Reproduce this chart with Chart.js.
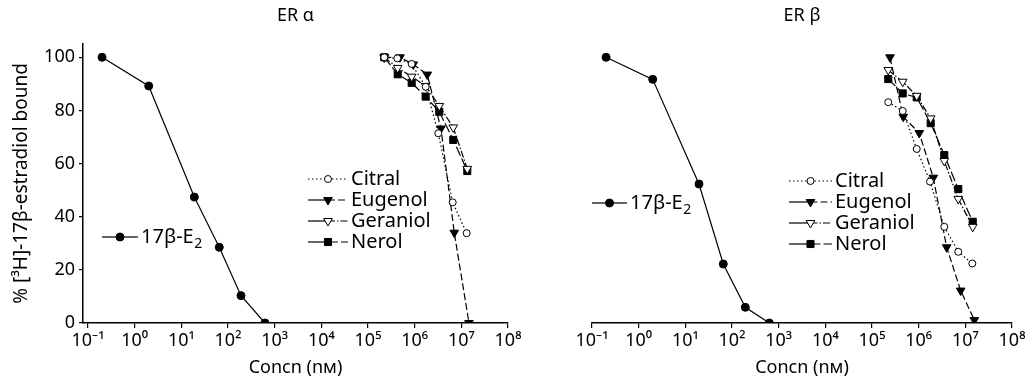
<!DOCTYPE html>
<html><head><meta charset="utf-8">
<script src="https://cdn.jsdelivr.net/npm/chart.js@4.4.1/dist/chart.umd.min.js"></script>
<style>
html,body{margin:0;padding:0;background:#fff;overflow:hidden;width:1030px;height:385px;}
.panel{position:absolute;top:0;height:385px;width:526px;}
#wa{left:0;}
#wb{left:504px;}
</style></head><body>
<div class="panel" id="wa"><canvas id="ca" width="526" height="385"></canvas></div>
<div class="panel" id="wb"><canvas id="cb" width="526" height="385"></canvas></div>
<script>
// ---------- data ----------
const panelTitles = ['ER \u03b1', 'ER \u03b2'];
const xTickValues = [1e-1, 1e0, 1e1, 1e2, 1e3, 1e4, 1e5, 1e6, 1e7, 1e8];
const xTickLabels = ['10\u207b\u00b9','10\u2070','10\u00b9','10\u00b2','10\u00b3','10\u2074','10\u2075','10\u2076','10\u2077','10\u2078'];
const yTickValues = [0, 20, 40, 60, 80, 100];
const seriesNames = ['17\u03b2-E2', 'Citral', 'Eugenol', 'Geraniol', 'Nerol'];
const xAxisTitle = 'Concn (n\u043c)';
const yAxisTitle = '% [\u00b3H]-17\u03b2-estradiol bound';

// ER alpha
const e2ConcA      = [0.2, 2.0, 19, 65, 190, 620];
const e2BoundA     = [100, 89.2, 47.4, 28.5, 10.3, 0];
const citralConcA  = [2.23e5, 4.25e5, 8.63e5, 1.72e6, 3.21e6, 6.53e6, 1.30e7];
const citralBoundA = [100, 99.6, 97.5, 88.9, 71.4, 45.4, 33.8];
const eugenolConcA  = [2.23e5, 4.84e5, 9.33e5, 1.86e6, 3.66e6, 7.06e6, 1.46e7];
const eugenolBoundA = [100, 100, 97.3, 93.5, 73.2, 34, 0];
const geraniolConcA  = [2.23e5, 4.33e5, 8.63e5, 1.72e6, 3.37e6, 6.71e6, 1.34e7];
const geraniolBoundA = [100, 96, 92.7, 89.2, 81.7, 73.6, 58];
const nerolConcA  = [2.23e5, 4.33e5, 8.63e5, 1.72e6, 3.37e6, 6.71e6, 1.34e7];
const nerolBoundA = [100, 93.6, 90.4, 85.2, 79.5, 68.9, 57.2];

// ER beta
const e2ConcB      = [0.2, 2.0, 19.6, 65, 193, 631];
const e2BoundB     = [100, 91.7, 52.3, 22.2, 5.9, 0];
const citralConcB  = [2.23e5, 4.55e5, 9.08e5, 1.75e6, 3.54e6, 7.06e6, 1.41e7];
const citralBoundB = [83.1, 79.8, 65.5, 53.2, 36.2, 26.8, 22.4];
const eugenolConcB  = [2.43e5, 4.68e5, 1.03e6, 2.06e6, 3.98e6, 7.94e6, 1.56e7];
const eugenolBoundB = [100, 77.6, 71.5, 54.7, 28.5, 12.2, 1.1];
const geraniolConcB  = [2.23e5, 4.55e5, 9.08e5, 1.81e6, 3.54e6, 7.06e6, 1.44e7];
const geraniolBoundB = [95.2, 90.8, 85.5, 77, 61, 46.7, 36.2];
const nerolConcB  = [2.23e5, 4.55e5, 9.08e5, 1.81e6, 3.54e6, 7.06e6, 1.44e7];
const nerolBoundB = [91.8, 86.4, 84.9, 75.2, 63.2, 50.4, 38.1];

// ---------- styles ----------
const INK = '#000';
const FONT = '"Noto Sans", "Open Sans", "DejaVu Sans", sans-serif';
const styles = [
  {pointStyle:'circle',   radius:4,   fill:INK,    rot:0,   dash:[]},
  {pointStyle:'circle',   radius:3.5, fill:'#fff', rot:0,   dash:[1.5,2.5]},
  {pointStyle:'triangle', radius:5,   fill:INK,    rot:180, dash:[7,3]},
  {pointStyle:'triangle', radius:5,   fill:'#fff', rot:180, dash:[7,2,1.5,2]},
  {pointStyle:'rect',     radius:5,   fill:INK,    rot:0,   dash:[10,3]}
];

function pts(xs, ys){ return xs.map((x,i)=>({x:x, y:ys[i]})); }
function ds(i, xs, ys){
  const s = styles[i];
  return {
    label: seriesNames[i], data: pts(xs, ys),
    borderColor: INK, borderWidth: 1.2, borderDash: s.dash,
    pointStyle: s.pointStyle, pointRadius: s.radius, pointRotation: s.rot,
    pointBackgroundColor: s.fill, pointBorderColor: INK, pointBorderWidth: 1,
    tension: 0, fill: false
  };
}

function drawMarker(ctx, s, x, y){
  ctx.save();
  ctx.setLineDash([]);
  ctx.fillStyle = s.fill; ctx.strokeStyle = INK; ctx.lineWidth = 1;
  ctx.beginPath();
  const r = s.radius;
  if (s.pointStyle === 'circle') {
    ctx.arc(x, y, r, 0, Math.PI*2);
  } else if (s.pointStyle === 'rect') {
    const h = r*Math.SQRT1_2;
    ctx.rect(x-h, y-h, 2*h, 2*h);
  } else {
    let a = s.rot*Math.PI/180;
    ctx.moveTo(x + Math.sin(a)*r, y - Math.cos(a)*r);
    a += 2*Math.PI/3; ctx.lineTo(x + Math.sin(a)*r, y - Math.cos(a)*r);
    a += 2*Math.PI/3; ctx.lineTo(x + Math.sin(a)*r, y - Math.cos(a)*r);
    ctx.closePath();
  }
  ctx.fill(); ctx.stroke();
  ctx.restore();
}

const inlineLegend = {
  id: 'inlineLegend',
  afterDatasetsDraw(chart, args, opts){
    const ctx = chart.ctx;
    opts.items.forEach(it => {
      const s = styles[it.index];
      const x0 = it.x, x1 = it.x + it.w, xm = it.x + it.w/2, y = it.y;
      ctx.save();
      ctx.strokeStyle = INK; ctx.lineWidth = 1.2;
      ctx.setLineDash(it.index === 1 ? s.dash : []);
      ctx.beginPath(); ctx.moveTo(x0, y); ctx.lineTo(xm, y); ctx.stroke();
      ctx.setLineDash(s.dash);
      ctx.beginPath(); ctx.moveTo(xm, y); ctx.lineTo(x1, y); ctx.stroke();
      ctx.restore();
      drawMarker(ctx, s, xm, y);
      ctx.save();
      ctx.fillStyle = INK; ctx.textBaseline = 'middle'; ctx.textAlign = 'left';
      ctx.font = '20px ' + FONT;
      const name = seriesNames[it.index];
      const tx = x1 + 3;
      if (it.index === 0) {
        const main = name.slice(0, -1), sub = name.slice(-1);
        ctx.fillText(main, tx, y);
        const w = ctx.measureText(main).width;
        ctx.font = '14px ' + FONT;
        ctx.fillText(sub, tx + w + 0.5, y + 7);
      } else {
        ctx.fillText(name, tx, y);
      }
      ctx.restore();
    });
  }
};

function makeOptions(panel, legendItems){
  const left = panel === 0;
  return {
    responsive: false, animation: false, devicePixelRatio: 1,
    layout: { padding: { left: 0, right: 18, top: 0, bottom: 0 } },
    plugins: {
      legend: { display: false }, tooltip: { enabled: false },
      title: { display: true, text: panelTitles[panel], fullSize: false, color: INK,
               font: { family: FONT, size: 18, weight: 'normal' }, padding: { top: 5, bottom: 17.4 } },
      inlineLegend: { items: legendItems }
    },
    scales: {
      x: {
        type: 'logarithmic', min: left ? Math.pow(10, -1.107) : 0.1, max: 1e8,
        afterBuildTicks: s => { s.ticks = xTickValues.map(v => ({ value: v })); },
        afterFit: s => { s.height = 62; },
        ticks: { callback: (v, i) => xTickLabels[i], color: INK, font: { family: FONT, size: 18 },
                 padding: 2, maxRotation: 0, autoSkip: false },
        grid: { drawOnChartArea: false, drawTicks: true, tickLength: 5, color: INK, lineWidth: 1.2 },
        border: { display: true, color: INK, width: 1.5 },
        title: { display: true, text: xAxisTitle, color: INK, font: { family: FONT, size: 18 },
                 padding: { top: 0, bottom: 6 } }
      },
      y: {
        type: 'linear', min: 0, max: 105,
        afterBuildTicks: s => { s.ticks = yTickValues.map(v => ({ value: v })); },
        afterFit: s => { s.width = left ? 83 : 88; },
        ticks: { display: left, color: INK, font: { family: FONT, size: 18 }, padding: 4 },
        grid: { display: left, drawOnChartArea: false, drawTicks: true, tickLength: 4, color: INK, lineWidth: 1.2 },
        border: { display: left, color: INK, width: 1.5 },
        title: { display: left, text: yAxisTitle, color: INK, font: { family: FONT, size: 19 },
                 padding: { top: 10, bottom: 0 } }
      }
    }
  };
}

new Chart(document.getElementById('ca'), {
  type: 'line',
  data: { datasets: [
    ds(0, e2ConcA, e2BoundA), ds(1, citralConcA, citralBoundA), ds(2, eugenolConcA, eugenolBoundA),
    ds(3, geraniolConcA, geraniolBoundA), ds(4, nerolConcA, nerolBoundA)
  ]},
  options: makeOptions(0, [
    {index:0, x:102, y:237, w:36},
    {index:1, x:308, y:179, w:40},
    {index:2, x:308, y:200, w:40},
    {index:3, x:308, y:221, w:40},
    {index:4, x:308, y:242, w:40}
  ]),
  plugins: [inlineLegend]
});

new Chart(document.getElementById('cb'), {
  type: 'line',
  data: { datasets: [
    ds(0, e2ConcB, e2BoundB), ds(1, citralConcB, citralBoundB), ds(2, eugenolConcB, eugenolBoundB),
    ds(3, geraniolConcB, geraniolBoundB), ds(4, nerolConcB, nerolBoundB)
  ]},
  options: makeOptions(1, [
    {index:0, x:88, y:203, w:35},
    {index:1, x:285, y:181, w:43},
    {index:2, x:285, y:202, w:43},
    {index:3, x:285, y:223, w:43},
    {index:4, x:285, y:244, w:43}
  ]),
  plugins: [inlineLegend]
});
</script>
</body></html>
